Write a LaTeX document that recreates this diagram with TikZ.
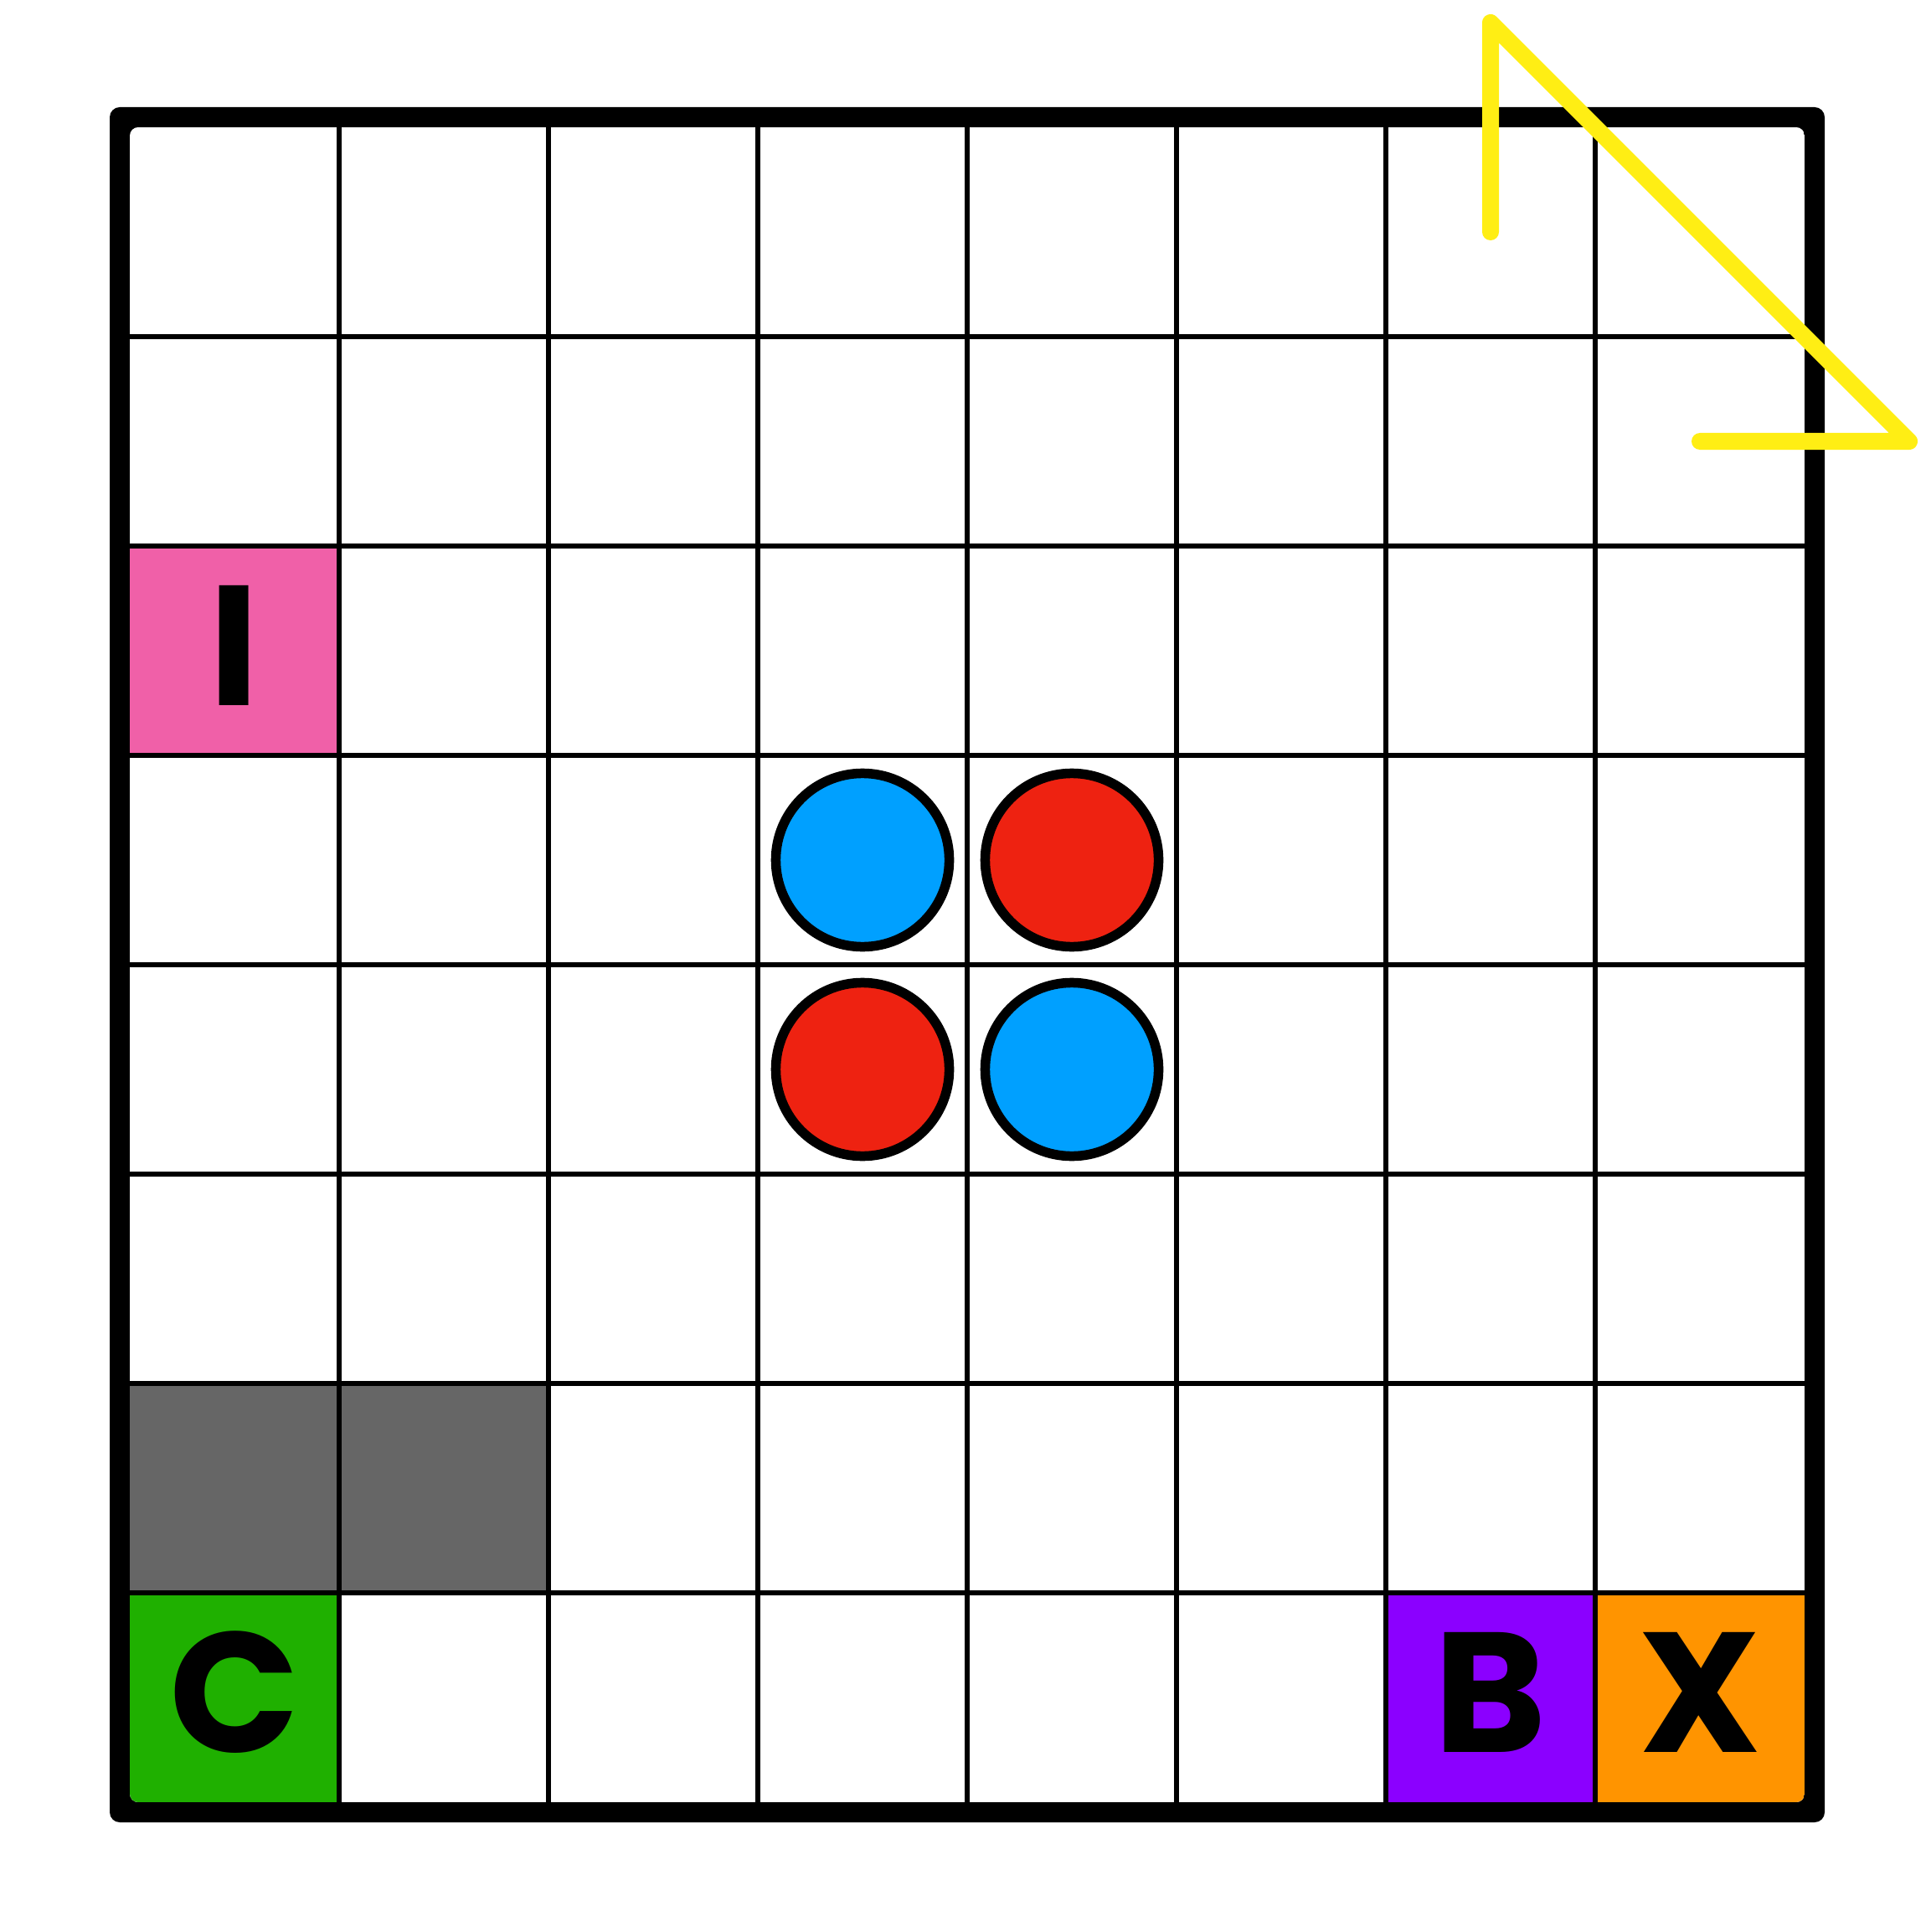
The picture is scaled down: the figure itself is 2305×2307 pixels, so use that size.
\documentclass[tikz,border=0pt]{standalone}
\usepackage{fontspec}
\newfontfamily\labfont{Poppins}
\definecolor{pinkc}{HTML}{F060A8}
\definecolor{greenc}{HTML}{1FB000}
\definecolor{purplec}{HTML}{8B00FF}
\definecolor{orangec}{HTML}{FF9400}
\definecolor{grayc}{HTML}{666666}
\definecolor{bluec}{HTML}{00A0FF}
\definecolor{redc}{HTML}{EE2211}
\definecolor{yelc}{HTML}{FFEE14}
\begin{document}
\begin{tikzpicture}[x=0.01cm,y=-0.01cm,
  gridline/.style={line width=0.055cm, draw=black},
  disc/.style={circle, draw=black, line width=0.115cm, minimum size=2.07cm, inner sep=0pt},
  letter/.style={font=\labfont\bfseries\fontsize{58}{58}\selectfont, inner sep=0pt, text=black},
  trail/.style={draw=yelc, line width=0.2cm, line cap=round, line join=round}]
\useasboundingbox (0,0) rectangle (2305,2307);
\fill[black, rounded corners=0.12cm] (131,128) rectangle (2179,2176);
\begin{scope}
  \clip[rounded corners=0.1cm] (155,152) rectangle (2155,2152);
  \fill[white] (155,152) rectangle (2155,2152);
  \fill[pinkc] (155,652) rectangle (405,902);
  \fill[grayc] (155,1652) rectangle (655,1902);
  \fill[greenc] (155,1902) rectangle (405,2152);
  \fill[purplec] (1655,1902) rectangle (1905,2152);
  \fill[orangec] (1905,1902) rectangle (2155,2152);
  \foreach \k in {1,...,7} {
    \draw[gridline] ({155+250*\k},152) -- ({155+250*\k},2152);
    \draw[gridline] (155,{152+250*\k}) -- (2155,{152+250*\k});
  }
\end{scope}
\node[disc, fill=bluec] (b1) at (1030,1027) {};
\node[disc, fill=redc] (r1) at (1280,1027) {};
\node[disc, fill=redc] (r2) at (1030,1277) {};
\node[disc, fill=bluec] (b2) at (1280,1277) {};
\node[letter] (li) at (280,771) {I};
\node[letter] (lc) at (280,2021) {C};
\node[letter] (lb) at (1780,2021) {B};
\node[letter] (lx) at (2030,2021) {X};
\coordinate (p0) at (1780,277);
\coordinate (p1) at (1780,27);
\coordinate (p2) at (2280,527);
\coordinate (p3) at (2030,527);
\draw[trail] (p0) -- (p1) -- (p2) -- (p3);
\end{tikzpicture}
\end{document}
